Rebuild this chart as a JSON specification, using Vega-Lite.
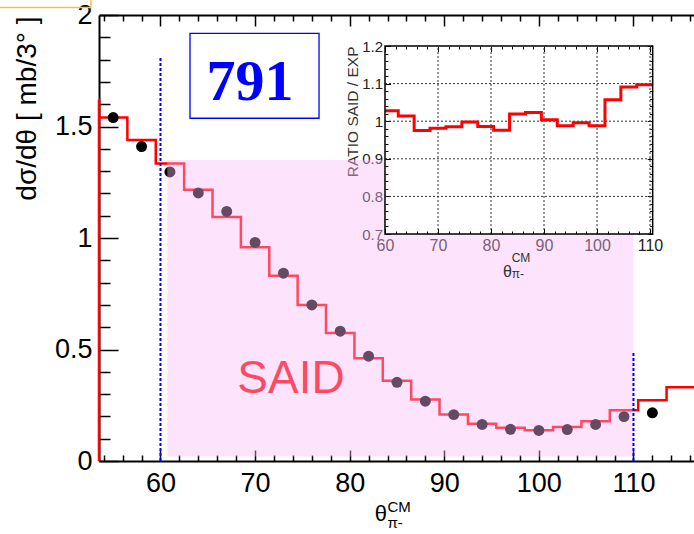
{
  "$schema": "https://vega.github.io/schema/vega-lite/v6.json",
  "width": 595,
  "height": 446,
  "autosize": {"type": "none"},
  "padding": {"left": 99, "top": 15, "right": 0, "bottom": 73},
  "background": "white",
  "config": {
    "view": {"stroke": null},
    "font": "Liberation Sans",
    "axis": {"labelFont": "Liberation Sans", "titleFont": "Liberation Sans", "grid": false, "labelOverlap": false, "labelFlush": false, "tickColor": "black", "domainColor": "black", "labelColor": "black", "titleColor": "black"}
  },
  "datasets": {
    "said": [
      {"lo": 50.5, "hi": 53.5, "said": 1.62},
      {"lo": 53.5, "hi": 56.5, "said": 1.54},
      {"lo": 56.5, "hi": 59.5, "said": 1.44},
      {"lo": 59.5, "hi": 62.5, "said": 1.334},
      {"lo": 62.5, "hi": 65.5, "said": 1.216},
      {"lo": 65.5, "hi": 68.5, "said": 1.094},
      {"lo": 68.5, "hi": 71.5, "said": 0.958},
      {"lo": 71.5, "hi": 74.5, "said": 0.831},
      {"lo": 74.5, "hi": 77.5, "said": 0.7},
      {"lo": 77.5, "hi": 80.5, "said": 0.574},
      {"lo": 80.5, "hi": 83.5, "said": 0.461},
      {"lo": 83.5, "hi": 86.5, "said": 0.36},
      {"lo": 86.5, "hi": 89.5, "said": 0.276},
      {"lo": 89.5, "hi": 92.5, "said": 0.208},
      {"lo": 92.5, "hi": 95.5, "said": 0.167},
      {"lo": 95.5, "hi": 98.5, "said": 0.149},
      {"lo": 98.5, "hi": 101.5, "said": 0.138},
      {"lo": 101.5, "hi": 104.5, "said": 0.153},
      {"lo": 104.5, "hi": 107.5, "said": 0.178},
      {"lo": 107.5, "hi": 110.5, "said": 0.228},
      {"lo": 110.5, "hi": 113.5, "said": 0.272},
      {"lo": 113.5, "hi": 116.5, "said": 0.331}
    ],
    "exp": [
      {"theta": 55, "dsig": 1.54},
      {"theta": 58, "dsig": 1.41},
      {"theta": 61, "dsig": 1.296},
      {"theta": 64, "dsig": 1.202},
      {"theta": 67, "dsig": 1.119},
      {"theta": 70, "dsig": 0.98},
      {"theta": 73, "dsig": 0.842},
      {"theta": 76, "dsig": 0.7},
      {"theta": 79, "dsig": 0.582},
      {"theta": 82, "dsig": 0.47},
      {"theta": 85, "dsig": 0.353},
      {"theta": 88, "dsig": 0.268},
      {"theta": 91, "dsig": 0.208},
      {"theta": 94, "dsig": 0.164},
      {"theta": 97, "dsig": 0.142},
      {"theta": 100, "dsig": 0.137},
      {"theta": 103, "dsig": 0.141},
      {"theta": 106, "dsig": 0.164},
      {"theta": 109, "dsig": 0.199},
      {"theta": 112, "dsig": 0.216}
    ],
    "ratio": [
      {"lo": 60, "hi": 62.5, "r": 1.028},
      {"lo": 62.5, "hi": 65.5, "r": 1.014},
      {"lo": 65.5, "hi": 68.5, "r": 0.975},
      {"lo": 68.5, "hi": 71.5, "r": 0.981},
      {"lo": 71.5, "hi": 74.5, "r": 0.985},
      {"lo": 74.5, "hi": 77.5, "r": 0.998},
      {"lo": 77.5, "hi": 80.5, "r": 0.986},
      {"lo": 80.5, "hi": 83.5, "r": 0.976},
      {"lo": 83.5, "hi": 86.5, "r": 1.019},
      {"lo": 86.5, "hi": 89.5, "r": 1.023},
      {"lo": 89.5, "hi": 92.5, "r": 1.004},
      {"lo": 92.5, "hi": 95.5, "r": 0.988},
      {"lo": 95.5, "hi": 98.5, "r": 0.996},
      {"lo": 98.5, "hi": 101.5, "r": 0.988},
      {"lo": 101.5, "hi": 104.5, "r": 1.057},
      {"lo": 104.5, "hi": 107.5, "r": 1.091},
      {"lo": 107.5, "hi": 110.5, "r": 1.097}
    ]
  },
  "layer": [
    {
      "layer": [
        {
          "data": {"values": [{"x": 73.8, "y": 0.306, "t": "SAID"}]},
          "mark": {"type": "text", "fontSize": 46, "color": "#ff0000", "align": "center", "baseline": "alphabetic", "font": "Liberation Sans"},
          "encoding": {
            "x": {"field": "x", "type": "quantitative", "scale": {"domain": [53.5, 116.4], "zero": false, "nice": false},
              "axis": {"orient": "bottom", "values": [60, 70, 80, 90, 100, 110], "labelExpr": "'' + datum.value", "ticks": false, "tickSize": 0, "domainWidth": 2, "labelFontSize": 27, "labelPadding": 9, "title": null}},
            "y": {"field": "y", "type": "quantitative", "scale": {"domain": [0, 2], "zero": false, "nice": false},
              "axis": {"orient": "left", "values": [0, 0.5, 1, 1.5, 2], "labelExpr": "'' + datum.value", "ticks": false, "tickSize": 0, "domainWidth": 2, "labelFontSize": 27, "labelPadding": 7, "title": "dσ/dθ [ mb/3° ]", "titleFontSize": 28, "titleFontWeight": "normal", "titleAngle": 270, "titleAlign": "right", "titleBaseline": "alphabetic", "titleX": -64, "titleY": 1}},
            "text": {"field": "t"}
          }
        },
        {
          "data": {"name": "said"},
          "transform": [{"fold": ["lo", "hi"], "as": ["edge", "x"]}],
          "mark": {"type": "line", "color": "#ff0000", "strokeWidth": 2.5, "clip": true},
          "encoding": {
            "x": {"field": "x", "type": "quantitative", "scale": {"domain": [53.5, 116.4], "zero": false, "nice": false}},
            "y": {"field": "said", "type": "quantitative", "scale": {"domain": [0, 2], "zero": false, "nice": false}},
            "order": {"value": null}
          }
        },
        {
          "data": {"values": [{"x": 53.5, "y": 0, "y2": 1.62}]},
          "mark": {"type": "rule", "color": "#ff0000", "strokeWidth": 2.5},
          "encoding": {
            "x": {"field": "x", "type": "quantitative", "scale": {"domain": [53.5, 116.4], "zero": false, "nice": false}},
            "y": {"field": "y", "type": "quantitative", "scale": {"domain": [0, 2], "zero": false, "nice": false}},
            "y2": {"field": "y2"}
          }
        },
        {
          "data": {"name": "exp"},
          "mark": {"type": "circle", "size": 120, "color": "black", "opacity": 1},
          "encoding": {
            "x": {"field": "theta", "type": "quantitative", "scale": {"domain": [53.5, 116.4], "zero": false, "nice": false}},
            "y": {"field": "dsig", "type": "quantitative", "scale": {"domain": [0, 2], "zero": false, "nice": false}}
          }
        },
        {
          "data": {"values": [{"x1": 60.72, "x2": 110, "y1": 0.02, "y2": 1.017937}, {"x1": 60.72, "x2": 83.73, "y1": 1.017937, "y2": 1.35}]},
          "mark": {"type": "rect", "color": "#f9b8f6", "opacity": 0.4},
          "encoding": {
            "x": {"field": "x1", "type": "quantitative", "scale": {"domain": [53.5, 116.4], "zero": false, "nice": false}},
            "x2": {"field": "x2"},
            "y": {"field": "y1", "type": "quantitative", "scale": {"domain": [0, 2], "zero": false, "nice": false}},
            "y2": {"field": "y2"}
          }
        },
        {
          "data": {"values": [{"x1": 63.12, "x2": 76.76, "y1": 1.537, "y2": 1.918}]},
          "mark": {"type": "rect", "fill": "white", "stroke": "#0000ff", "strokeWidth": 1.3},
          "encoding": {
            "x": {"field": "x1", "type": "quantitative", "scale": {"domain": [53.5, 116.4], "zero": false, "nice": false}},
            "x2": {"field": "x2"},
            "y": {"field": "y1", "type": "quantitative", "scale": {"domain": [0, 2], "zero": false, "nice": false}},
            "y2": {"field": "y2"}
          }
        },
        {
          "data": {"values": [{"x": 69.46, "y": 1.619, "t": "791"}]},
          "mark": {"type": "text", "fontSize": 58, "fontWeight": "bold", "font": "Liberation Serif", "color": "#0000ff", "align": "center", "baseline": "alphabetic"},
          "encoding": {
            "x": {"field": "x", "type": "quantitative", "scale": {"domain": [53.5, 116.4], "zero": false, "nice": false}},
            "y": {"field": "y", "type": "quantitative", "scale": {"domain": [0, 2], "zero": false, "nice": false}},
            "text": {"field": "t"}
          }
        },
        {
          "data": {"values": [{"x1": 41.98, "x2": 52.65, "y1": 2.0336, "y2": 2.16}]},
          "mark": {"type": "rect", "filled": false, "stroke": "#f2c04c", "strokeWidth": 1.5},
          "encoding": {
            "x": {"field": "x1", "type": "quantitative", "scale": {"domain": [53.5, 116.4], "zero": false, "nice": false}},
            "x2": {"field": "x2"},
            "y": {"field": "y1", "type": "quantitative", "scale": {"domain": [0, 2], "zero": false, "nice": false}},
            "y2": {"field": "y2"}
          }
        },
        {
          "data": {"values": [{"x": 83.31, "y": -0.269, "t": "θ"}]},
          "mark": {"type": "text", "fontSize": 22, "color": "black", "align": "center", "baseline": "alphabetic", "font": "Liberation Sans"},
          "encoding": {
            "x": {"field": "x", "type": "quantitative", "scale": {"domain": [53.5, 116.4], "zero": false, "nice": false}},
            "y": {"field": "y", "type": "quantitative", "scale": {"domain": [0, 2], "zero": false, "nice": false}},
            "text": {"field": "t"}
          }
        },
        {
          "data": {"values": [{"x": 84.0, "y": -0.229, "t": "CM"}, {"x": 84.0, "y": -0.3, "t": "π-"}]},
          "mark": {"type": "text", "fontSize": 15, "color": "black", "align": "left", "baseline": "alphabetic", "font": "Liberation Sans"},
          "encoding": {
            "x": {"field": "x", "type": "quantitative", "scale": {"domain": [53.5, 116.4], "zero": false, "nice": false}},
            "y": {"field": "y", "type": "quantitative", "scale": {"domain": [0, 2], "zero": false, "nice": false}},
            "text": {"field": "t"}
          }
        }
      ]
    },
    {
      "data": {"values": [{"x": 60, "y": 0, "y2": 1.807}, {"x": 110, "y": 0, "y2": 0.49}]},
      "mark": {"type": "rule", "color": "#0000ff", "strokeWidth": 2, "strokeDash": [3, 2]},
      "encoding": {
        "x": {"field": "x", "type": "quantitative", "scale": {"domain": [53.5, 116.4], "zero": false, "nice": false},
          "axis": {"orient": "top", "values": [54,56,58,60,62,64,66,68,70,72,74,76,78,80,82,84,86,88,90,92,94,96,98,100,102,104,106,108,110,112,114,116], "labels": false, "tickSize": {"condition": {"test": "datum.value % 10 === 0", "value": -11}, "value": -6}, "tickWidth": 1.5, "domainWidth": 2, "title": null}},
        "y": {"field": "y", "type": "quantitative", "scale": {"domain": [0, 2], "zero": false, "nice": false},
          "axis": {"orient": "left", "values": [0,0.1,0.2,0.3,0.4,0.5,0.6,0.7,0.8,0.9,1,1.1,1.2,1.3,1.4,1.5,1.6,1.7,1.8,1.9,2], "labels": false, "domain": false, "tickSize": {"condition": {"test": "abs(datum.value*2-round(datum.value*2)) < 0.000001", "value": -19}, "value": -11}, "tickWidth": 1.5, "title": null}},
        "y2": {"field": "y2"}
      }
    },
    {
      "data": {"values": [{"x": 60, "y": 1}]},
      "mark": {"type": "point", "opacity": 0},
      "encoding": {
        "x": {"field": "x", "type": "quantitative", "scale": {"domain": [53.5, 116.4], "zero": false, "nice": false},
          "axis": {"orient": "bottom", "values": [54,56,58,60,62,64,66,68,70,72,74,76,78,80,82,84,86,88,90,92,94,96,98,100,102,104,106,108,110,112,114,116], "labels": false, "domain": false, "tickSize": {"condition": {"test": "datum.value % 10 === 0", "value": -11}, "value": -6}, "tickWidth": 1.5, "title": null}},
        "y": {"field": "y", "type": "quantitative", "scale": {"domain": [0, 2], "zero": false, "nice": false}, "axis": null}
      }
    },
    {
      "layer": [
        {
          "data": {"values": [{"g": 70}, {"g": 80}, {"g": 90}, {"g": 100}, {"g": 110}]},
          "mark": {"type": "rule", "color": "#333333", "strokeWidth": 1, "strokeDash": [2, 2]},
          "encoding": {
            "x": {"field": "g", "type": "quantitative", "scale": {"domain": [6.038, 118.3], "zero": false, "nice": false}},
            "y": {"datum": 0.7, "type": "quantitative", "scale": {"domain": [0.09628, 1.28245], "zero": false, "nice": false}},
            "y2": {"datum": 1.2}
          }
        },
        {
          "data": {"values": [{"g": 0.8}, {"g": 0.9}, {"g": 1.0}, {"g": 1.1}]},
          "mark": {"type": "rule", "color": "#333333", "strokeWidth": 1, "strokeDash": [2, 2]},
          "encoding": {
            "y": {"field": "g", "type": "quantitative", "scale": {"domain": [0.09628, 1.28245], "zero": false, "nice": false}},
            "x": {"datum": 60, "type": "quantitative", "scale": {"domain": [6.038, 118.3], "zero": false, "nice": false}},
            "x2": {"datum": 110.5}
          }
        },
        {
          "data": {"name": "ratio"},
          "transform": [{"fold": ["lo", "hi"], "as": ["edge", "x"]}],
          "mark": {"type": "line", "color": "#ff0000", "strokeWidth": 3},
          "encoding": {
            "x": {"field": "x", "type": "quantitative", "scale": {"domain": [6.038, 118.3], "zero": false, "nice": false},
              "axis": {"orient": "bottom", "offset": -227, "domain": false, "values": [60, 70, 80, 90, 100, 110], "labelExpr": "'' + datum.value", "ticks": false, "tickSize": 0, "labelFontSize": 16, "labelPadding": 3.5, "labelColor": "#222222", "title": null}},
            "y": {"field": "r", "type": "quantitative", "scale": {"domain": [0.09628, 1.28245], "zero": false, "nice": false},
              "axis": {"orient": "left", "offset": -286, "domain": false, "values": [0.7, 0.8, 0.9, 1, 1.1, 1.2], "labelExpr": "'' + datum.value", "ticks": false, "tickSize": 0, "labelFontSize": 15, "labelPadding": 2.5, "labelColor": "#222222", "title": "RATIO SAID / EXP", "titleFontSize": 15.5, "titleFontWeight": "normal", "titleColor": "#333333", "titleAngle": 270, "titleAlign": "right", "titleBaseline": "alphabetic", "titleX": -28, "titleY": 31}},
            "order": {"value": null}
          }
        },
        {
          "data": {"values": [{"x": 83.11, "y": 0.5864, "t": "θ"}]},
          "mark": {"type": "text", "fontSize": 16, "color": "#333333", "align": "center", "baseline": "alphabetic", "font": "Liberation Sans"},
          "encoding": {
            "x": {"field": "x", "type": "quantitative", "scale": {"domain": [6.038, 118.3], "zero": false, "nice": false}},
            "y": {"field": "y", "type": "quantitative", "scale": {"domain": [0.09628, 1.28245], "zero": false, "nice": false}},
            "text": {"field": "t"}
          }
        },
        {
          "data": {"values": [{"x": 83.9, "y": 0.6263, "t": "CM"}, {"x": 83.9, "y": 0.5822, "t": "π-"}]},
          "mark": {"type": "text", "fontSize": 12, "color": "#333333", "align": "left", "baseline": "alphabetic", "font": "Liberation Sans"},
          "encoding": {
            "x": {"field": "x", "type": "quantitative", "scale": {"domain": [6.038, 118.3], "zero": false, "nice": false}},
            "y": {"field": "y", "type": "quantitative", "scale": {"domain": [0.09628, 1.28245], "zero": false, "nice": false}},
            "text": {"field": "t"}
          }
        }
      ]
    },
    {
      "data": {"values": [{"x1": 60, "x2": 110.5, "y1": 0.7, "y2": 1.2}]},
      "mark": {"type": "rect", "filled": false, "stroke": "black", "strokeWidth": 1.5},
      "encoding": {
        "x": {"field": "x1", "type": "quantitative", "scale": {"domain": [6.038, 118.3], "zero": false, "nice": false},
          "axis": {"orient": "top", "offset": -31, "domain": false, "values": [60,62,64,66,68,70,72,74,76,78,80,82,84,86,88,90,92,94,96,98,100,102,104,106,108,110], "labels": false, "tickSize": {"condition": {"test": "datum.value % 10 === 0", "value": -5.5}, "value": -3}, "tickWidth": 1, "title": null}},
        "x2": {"field": "x2"},
        "y": {"field": "y1", "type": "quantitative", "scale": {"domain": [0.09628, 1.28245], "zero": false, "nice": false},
          "axis": {"orient": "right", "offset": -41.3, "domain": false, "values": [0.7,0.72,0.74,0.76,0.78,0.8,0.82,0.84,0.86,0.88,0.9,0.92,0.94,0.96,0.98,1,1.02,1.04,1.06,1.08,1.1,1.12,1.14,1.16,1.18,1.2], "labels": false, "tickSize": {"condition": {"test": "abs(datum.value*10-round(datum.value*10)) < 0.000001", "value": -5.5}, "value": -3}, "tickWidth": 1, "title": null}},
        "y2": {"field": "y2"}
      }
    },
    {
      "data": {"values": [{"x": 80, "y": 1}]},
      "mark": {"type": "point", "opacity": 0},
      "encoding": {
        "x": {"field": "x", "type": "quantitative", "scale": {"domain": [6.038, 118.3], "zero": false, "nice": false},
          "axis": {"orient": "bottom", "offset": -227, "domain": false, "values": [60,62,64,66,68,70,72,74,76,78,80,82,84,86,88,90,92,94,96,98,100,102,104,106,108,110], "labels": false, "tickSize": {"condition": {"test": "datum.value % 10 === 0", "value": -5.5}, "value": -3}, "tickWidth": 1, "title": null}},
        "y": {"field": "y", "type": "quantitative", "scale": {"domain": [0.09628, 1.28245], "zero": false, "nice": false},
          "axis": {"orient": "left", "offset": -286, "domain": false, "values": [0.7,0.72,0.74,0.76,0.78,0.8,0.82,0.84,0.86,0.88,0.9,0.92,0.94,0.96,0.98,1,1.02,1.04,1.06,1.08,1.1,1.12,1.14,1.16,1.18,1.2], "labels": false, "tickSize": {"condition": {"test": "abs(datum.value*10-round(datum.value*10)) < 0.000001", "value": -5.5}, "value": -3}, "tickWidth": 1, "title": null}}
      }
    }
  ],
  "resolve": {"scale": {"x": "independent", "y": "independent"}, "axis": {"x": "independent", "y": "independent"}}
}
